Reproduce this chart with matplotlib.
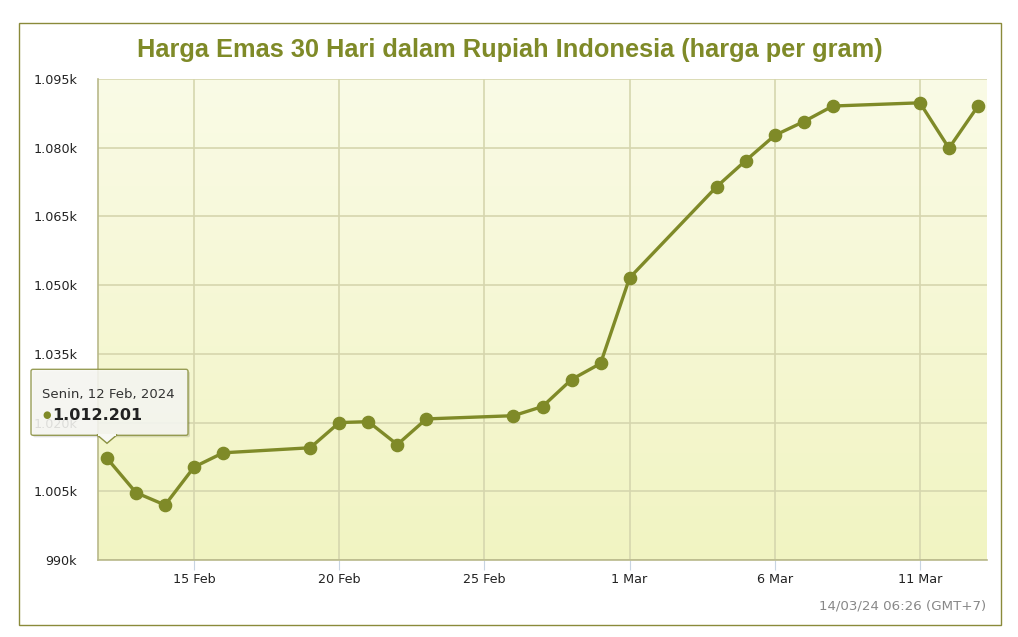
import datetime as dt

import matplotlib
matplotlib.use("Agg")
import matplotlib.pyplot as plt
import matplotlib.dates as mdates
import numpy as np
from matplotlib.colors import LinearSegmentedColormap
from matplotlib.patches import FancyBboxPatch, Polygon, Rectangle

# data: harga emas per gram (Rupiah)
dates = ["2024-02-12", "2024-02-13", "2024-02-14", "2024-02-15", "2024-02-16",
         "2024-02-19", "2024-02-20", "2024-02-21", "2024-02-22", "2024-02-23",
         "2024-02-26", "2024-02-27", "2024-02-28", "2024-02-29", "2024-03-01",
         "2024-03-04", "2024-03-05", "2024-03-06", "2024-03-07", "2024-03-08",
         "2024-03-11", "2024-03-12", "2024-03-13"]
prices = [1012201, 1004700, 1002000, 1010300, 1013400,
          1014500, 1020000, 1020200, 1015200, 1020800,
          1021500, 1023500, 1029400, 1032900, 1051600,
          1071500, 1077200, 1082700, 1085700, 1089100,
          1089800, 1079900, 1089100]

y_ticks = [990, 1005, 1020, 1035, 1050, 1065, 1080, 1095]
y_labels = ["990k", "1.005k", "1.020k", "1.035k", "1.050k", "1.065k", "1.080k", "1.095k"]
x_ticks = ["2024-02-15", "2024-02-20", "2024-02-25", "2024-03-01", "2024-03-06", "2024-03-11"]

title = "Harga Emas 30 Hari dalam Rupiah Indonesia (harga per gram)"
stamp = "14/03/24 06:26 (GMT+7)"
tip_date = "Senin, 12 Feb, 2024"
tip_value = "1.012.201"

OLIVE = "#7f8a28"
W, H = 1018, 637

x = mdates.date2num([dt.datetime.fromisoformat(d) for d in dates])
y = np.array(prices) / 1000.0
xt = mdates.date2num([dt.datetime.fromisoformat(d) for d in x_ticks])

fig = plt.figure(figsize=(W / 100, H / 100), dpi=100)
fig.patch.set_facecolor("white")

# outer frame
fig.add_artist(Rectangle((19 / W, 12 / H), 982 / W, 602 / H, transform=fig.transFigure,
                         fill=False, edgecolor="#8a8a3a", lw=1.0))

ax = fig.add_axes([98 / W, 77 / H, 889 / W, 481 / H])

# gradient background
cmap = LinearSegmentedColormap.from_list("bg", ["#f1f4c2", "#fafbe6"])
grad = np.linspace(0, 1, 256).reshape(-1, 1)
ax.imshow(grad, extent=[0, 1, 0, 1], transform=ax.transAxes, origin="lower",
          aspect="auto", cmap=cmap, zorder=0)

ax.plot(x, y, color=OLIVE, lw=2.4, marker="o", markersize=8.8,
        markerfacecolor=OLIVE, markeredgecolor=OLIVE, zorder=5)

ax.set_xlim(x[0] - 0.31, x[-1] + 0.31)
ax.set_ylim(990, 1095)
ax.set_yticks(y_ticks)
ax.set_yticklabels(y_labels)
ax.set_xticks(xt)
ax.set_xticklabels([f"{d.day} {d.strftime('%b')}" for d in mdates.num2date(xt)])

ax.grid(True, color="#d6d6ae", lw=1.2, zorder=1)
ax.set_axisbelow(True)
for s in ["top", "right"]:
    ax.spines[s].set_visible(False)
for s in ["left", "bottom"]:
    ax.spines[s].set_color("#b9b98a")
    ax.spines[s].set_linewidth(1.2)

ax.tick_params(axis="y", length=0, pad=15, labelsize=9.2, labelcolor="#222222")
ax.tick_params(axis="x", length=7.2, width=0.8, color="#c8d4e2", pad=2,
               labelsize=9.2, labelcolor="#222222")

fig.text(510 / W, 1 - 50 / H, title, ha="center", va="center",
         fontsize=18.3, fontweight="bold", color=OLIVE, family="Liberation Sans")
fig.text(986 / W, 1 - 606 / H, stamp, ha="right", va="center",
         fontsize=9.6, color="#888888")

# tooltip anchored at the first point
fig.canvas.draw()
px, py = ax.transData.transform((x[0], y[0]))
bl, br, bb, bt = px - 76, px + 81, py + 23, py + 89
shadow = FancyBboxPatch((bl + 2, bb - 2), br - bl, bt - bb, boxstyle="round,pad=0,rounding_size=2",
                        transform=None, facecolor="#000000", alpha=0.12, edgecolor="none", zorder=9)
box = FancyBboxPatch((bl, bb), br - bl, bt - bb, boxstyle="round,pad=0,rounding_size=2",
                     transform=None, facecolor="#f8f8f4", alpha=0.88,
                     edgecolor="#8a9040", lw=1.0, zorder=10)
fig.add_artist(shadow)
fig.add_artist(box)
arrow = Polygon([[px - 10, bb + 0.5], [px, py + 15], [px + 10, bb + 0.5]], closed=True,
                transform=None, facecolor="#f8f8f4", edgecolor="#8a9040", lw=1.0, zorder=11)
fig.add_artist(arrow)
fig.add_artist(Rectangle((px - 9.3, bb - 0.3), 18.6, 2.0, transform=None,
                         facecolor="#f8f8f4", edgecolor="none", zorder=12))
fig.text((bl + 11) / W, (py + 64) / H, tip_date, ha="left", va="center",
         fontsize=9.5, color="#333333", zorder=13)
fig.text((bl + 11) / W, (py + 43) / H, "\u25cf", ha="left", va="center",
         fontsize=7, color=OLIVE, zorder=13)
fig.text((bl + 21) / W, (py + 43) / H, tip_value, ha="left", va="center",
         fontsize=11.5, fontweight="bold", color="#222222", zorder=13)

fig.savefig("out.png", dpi=100)
